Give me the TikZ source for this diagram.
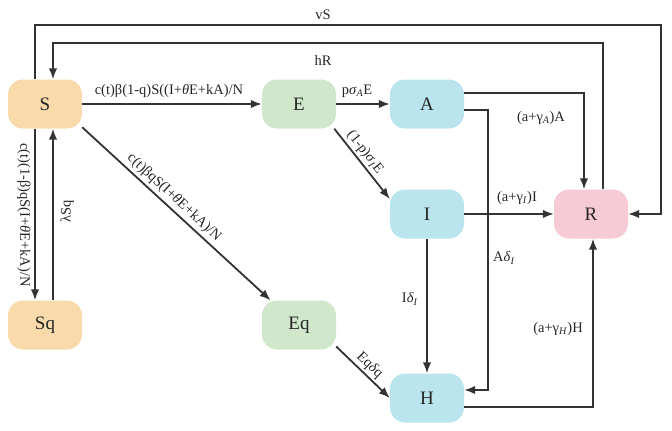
\documentclass[tikz,border=0pt]{standalone}
\usepackage{fontspec}
\setmainfont{Liberation Serif}
\usetikzlibrary{arrows.meta}
\definecolor{suscol}{HTML}{F9DBAB}
\definecolor{expcol}{HTML}{D0E7CC}
\definecolor{infcol}{HTML}{BBE5EE}
\definecolor{reccol}{HTML}{F7CBD6}
\definecolor{linecol}{HTML}{333333}

\begin{document}
\begin{tikzpicture}[x=1pt,y=-1pt,line join=miter,>={Latex[length=11pt,width=8.5pt]},
  box/.style={rectangle,rounded corners=15pt,minimum width=74pt,minimum height=49pt,inner sep=0pt,font=\fontsize{19}{19}\selectfont,text=black!85},
  flow/.style={->,line width=1.8pt,draw=linecol},
  lbl/.style={font=\fontsize{14.5}{14.5}\selectfont,inner sep=1pt,text=black!85}]
  \useasboundingbox (0,0) rectangle (672,431);
  \def\I#1{\textit{#1}}
  \node[box,fill=suscol] (S) at (45,104) {S};
  \node[box,fill=expcol] (E) at (299,104) {E};
  \node[box,fill=infcol] (A) at (427,104) {A};
  \node[box,fill=infcol] (I) at (427,214) {I};
  \node[box,fill=reccol] (R) at (591,214) {R};
  \node[box,fill=suscol] (Sq) at (45,325) {Sq};
  \node[box,fill=expcol] (Eq) at (299,325) {Eq};
  \node[box,fill=infcol] (H) at (427,398) {H};
  \coordinate (vbend) at (661,25);
  \coordinate (hbend) at (53,43);
  \coordinate (abend) at (488,250);
  \draw[flow] ([xshift=-10pt]S.north) |- (vbend) |- (R.east);
  \draw[flow] ([xshift=12pt]R.north) |- (hbend) -- ([xshift=8pt]S.north);
  \draw[flow] (S) -- (E);
  \draw[flow] (E) -- (A);
  \draw[flow] (E.-35) -- node[lbl,sloped,above=1pt,pos=0.42] {(1-p)\I{σ}\textsubscript{\I{I}}E} (I.158);
  \draw[flow] ([yshift=11pt]A.east) -| ([xshift=-7pt]R.north);
  \draw[flow] ([yshift=-6pt]A.east) -| (abend) |- ([yshift=8pt]H.east);
  \draw[flow] (I) -- (R);
  \draw[flow] (I) -- (H);
  \draw[flow] ([yshift=-9pt]H.east) -| ([xshift=2pt]R.south);
  \draw[flow] (S.-32) -- node[lbl,sloped,above=2pt,pos=0.45] {c(t)βqS(I+\I{θ}E+kA)/N} (Eq.139);
  \draw[flow] (Eq.-30) -- node[lbl,sloped,above=1pt,pos=0.5] {Eq\I{δ}q} (H.west);
  \draw[flow] ([xshift=-10pt]S.south) -- ([xshift=-10pt]Sq.north);
  \draw[flow] ([xshift=8pt]Sq.north) -- ([xshift=8pt]S.south);
  \node[lbl] (lvS) at (323,15) {vS};
  \node[lbl] (lhR) at (323,60) {hR};
  \node[lbl] (lSE) at (169,91) {c(t)β(1-q)S((I+\I{θ}E+kA)/N};
  \node[lbl] (lEA) at (357,91) {p\I{σ}\textsubscript{\I{A}}E};
  \node[lbl] (lAR) at (541,118) {(a+γ\textsubscript{\I{A}})A};
  \node[lbl] (lIR) at (517,198) {(a+γ\textsubscript{\I{I}})I};
  \node[lbl] (lAH) at (504,258) {A\I{δ}\textsubscript{\I{I}}};
  \node[lbl] (lIH) at (410,299) {I\I{δ}\textsubscript{\I{I}}};
  \node[lbl] (lHR) at (558,329) {(a+γ\textsubscript{\I{H}})H};
  \node[lbl,rotate=-90] (lSSq) at (24,215) {c(t)(1-β)qS(I+\I{θ}E+kA)/N};
  \node[lbl,rotate=90] (lSqS) at (67,211) {λSq};
\end{tikzpicture}
\end{document}
